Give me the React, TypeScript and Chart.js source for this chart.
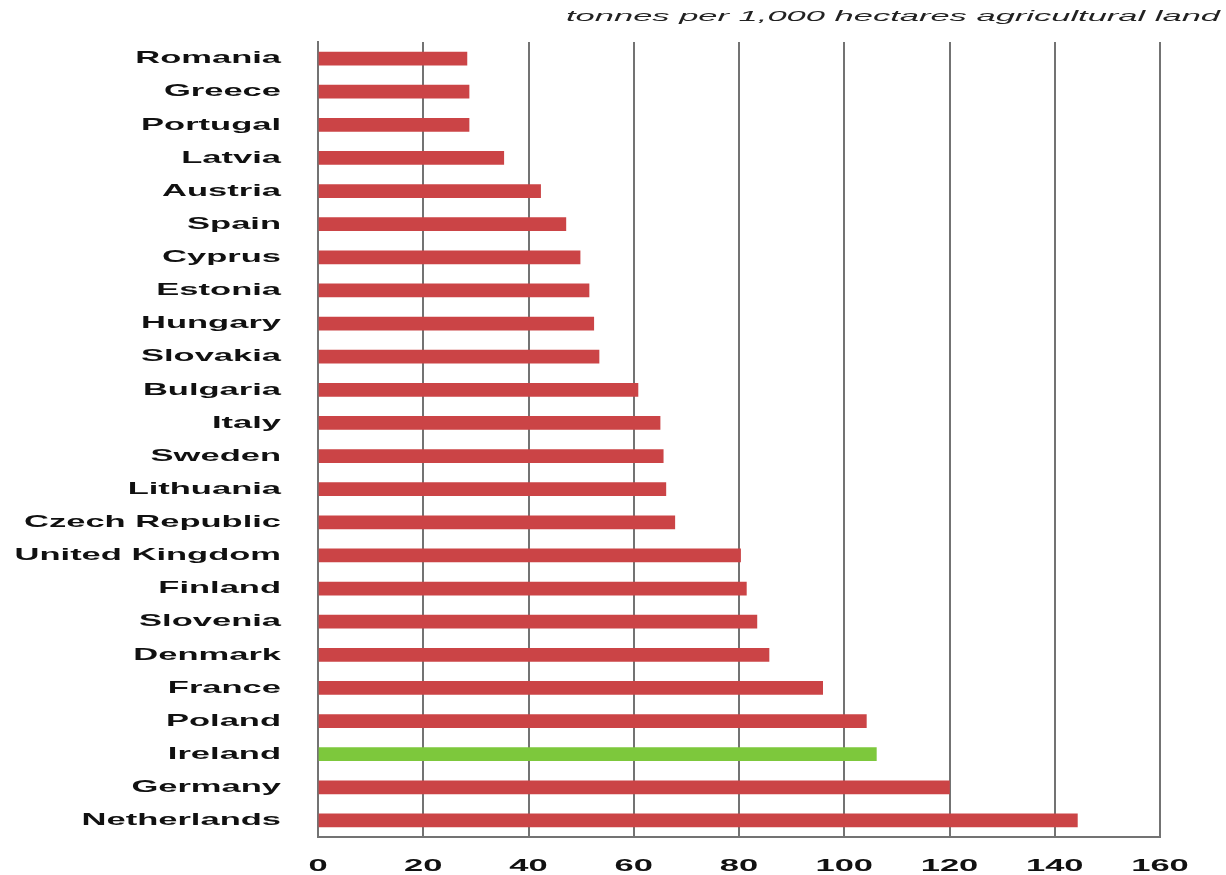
import React, { useEffect, useRef } from "react";
import { Chart, registerables } from "chart.js";

Chart.register(...registerables);

const countries = [
  "Romania", "Greece", "Portugal", "Latvia", "Austria", "Spain", "Cyprus", "Estonia",
  "Hungary", "Slovakia", "Bulgaria", "Italy", "Sweden", "Lithuania", "Czech Republic",
  "United Kingdom", "Finland", "Slovenia", "Denmark", "France", "Poland", "Ireland",
  "Germany", "Netherlands",
];

const values = [
  28.3, 28.7, 28.7, 35.3, 42.3, 47.1, 49.8, 51.5,
  52.4, 53.4, 60.8, 65.0, 65.6, 66.1, 67.8,
  80.3, 81.4, 83.4, 85.7, 95.9, 104.2, 106.1,
  120.0, 144.3,
];

const highlight = "Ireland";
const unitLabel = "tonnes per 1,000 hectares agricultural land";
const xTicks = [0, 20, 40, 60, 80, 100, 120, 140, 160];

const RED = "#CB4446";
const GREEN = "#7DC83C";
const GRID = "#737373";
const FONT = "'Liberation Sans', Arial, sans-serif";

export default function App() {
  const ref = useRef<HTMLCanvasElement | null>(null);

  useEffect(() => {
    if (!ref.current) return;
    let stretch = 2.03;
    let original: any = null;
    const stretchPlugin = {
      id: "stretchText",
      beforeDraw(chart: any) {
        const ctx = chart.ctx;
        original = ctx.fillText;
        stretch = 2.03;
        ctx.fillText = function (text: string, x: number, y: number) {
          ctx.save();
          ctx.translate(x, y);
          ctx.scale(stretch, 1);
          original.call(ctx, text, 0, 0);
          ctx.restore();
        };
      },
      afterDraw(chart: any) {
        const ctx = chart.ctx;
        ctx.save();
        stretch = 2.3;
        ctx.font = `italic 15px ${FONT}`;
        ctx.fillStyle = "#222";
        ctx.textAlign = "right";
        ctx.textBaseline = "middle";
        ctx.fillText(unitLabel, 1220, 17);
        ctx.restore();
        if (original) ctx.fillText = original;
        original = null;
      },
    };
    const chart = new Chart(ref.current, {
      type: "bar",
      data: {
        labels: countries,
        datasets: [
          {
            data: values,
            backgroundColor: countries.map((c) => (c === highlight ? GREEN : RED)),
            barThickness: 13,
            borderWidth: 0,
          },
        ],
      },
      options: {
        indexAxis: "y",
        animation: false,
        responsive: false,
        maintainAspectRatio: false,
        layout: { padding: { left: 0, right: 66, top: 42, bottom: 0 } },
        plugins: {
          legend: { display: false },
          title: { display: false },
          tooltip: { enabled: false },
        },
        scales: {
          x: {
            min: 0,
            max: 160,
            afterBuildTicks: (scale: any) => {
              scale.ticks = xTicks.map((v) => ({ value: v }));
            },
            afterFit: (scale: any) => {
              scale.height = 38;
              scale.paddingLeft = 0;
              scale.paddingRight = 0;
            },
            grid: {
              color: GRID,
              lineWidth: 2,
              drawTicks: false,
            },
            border: { display: true, color: GRID, width: 2 },
            ticks: {
              padding: 19,
              color: "#111",
              maxRotation: 0,
              font: { family: FONT, size: 17, weight: "bold" },
            },
          },
          y: {
            afterFit: (scale: any) => {
              scale.width = 318;
              scale.paddingTop = 0;
              scale.paddingBottom = 0;
            },
            grid: { display: false, drawTicks: false },
            border: { display: true, color: GRID, width: 2 },
            ticks: {
              padding: 37,
              color: "#111",
              autoSkip: false,
              font: { family: FONT, size: 17, weight: "bold" },
            },
          },
        },
      },
      plugins: [stretchPlugin],
    });
    return () => chart.destroy();
  }, []);

  return (
    <div style={{ position: "fixed", left: 0, top: 0, width: 1226, height: 875, background: "#fff" }}>
      <canvas ref={ref} width={1226} height={875} />
    </div>
  );
}
